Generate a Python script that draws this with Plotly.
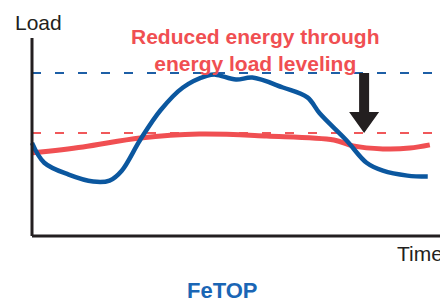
import plotly.graph_objects as go

# ---- data (arbitrary load units, time 0-100) ----
blue_time = [0, 3, 9, 15, 19, 22, 26.5, 31.5, 37, 43, 45, 50, 54, 61.5, 67.5, 70.5, 77, 82, 86, 92, 97]
blue_load = [47, 37, 31, 27.5, 28, 33, 48.5, 63.5, 75, 81, 81.5, 79, 80, 75, 70, 62, 48.5, 37, 33, 30.5, 30]

red_time = [0.2, 12.5, 26.5, 41, 57.5, 74, 78.7, 86, 92.6, 97.5]
red_load = [42, 45, 49.5, 51.5, 50.5, 48.5, 45.5, 44, 44.4, 46]

peak_level = 82.3
leveled_level = 52.0
arrow_time = 81.4

title_lines = ["Reduced energy through", "energy load leveling"]
y_label = "Load"
x_label = "Time"
caption = "FeTOP"

# ---- layout geometry ----
# the page body has an 8px margin, so the figure is drawn 8px in from the window corner
OFF = 8
WIN_W, WIN_H = 448, 303
W, H = WIN_W - OFF, WIN_H - OFF
X0_PX, XS = 32, 4.08      # window px of time 0, px per unit
Y0_PX, YS = 236, 1.98     # window px of load 0, px per unit
x_range = [(OFF - X0_PX) / XS, (WIN_W - X0_PX) / XS]
y_range = [(Y0_PX - WIN_H) / YS, (Y0_PX - OFF) / YS]


def px(xw):
    return (xw - OFF) / W


def py(yw):
    return 1 - (yw - OFF) / H


BLUE = "#0b579f"
RED = "#f04f52"
DARK = "#231f20"
FONT = "Liberation Sans, Arial, Helvetica, sans-serif"

fig = go.Figure()

# dashed reference levels
fig.add_trace(go.Scatter(x=[0, x_range[1]], y=[peak_level, peak_level], mode="lines",
                         line=dict(color="#1d5fa6", width=2, dash="9px,14px"), hoverinfo="skip"))
fig.add_trace(go.Scatter(x=[0, x_range[1]], y=[leveled_level, leveled_level], mode="lines",
                         line=dict(color="#f0585a", width=2, dash="9px,14px"), hoverinfo="skip"))

# curves
fig.add_trace(go.Scatter(x=red_time, y=red_load, mode="lines",
                         line=dict(color=RED, width=5, shape="spline", smoothing=1.0), hoverinfo="skip"))
fig.add_trace(go.Scatter(x=blue_time, y=blue_load, mode="lines",
                         line=dict(color=BLUE, width=4.5, shape="spline", smoothing=1.0), hoverinfo="skip"))

# axes lines
fig.add_shape(type="line", x0=0, x1=100, y0=0, y1=0, line=dict(color=DARK, width=3), layer="above")
fig.add_shape(type="line", x0=0, x1=0, y0=0, y1=100, line=dict(color=DARK, width=3), layer="above")

# arrow (shaft + head)
shaft_hw = 5 / XS
head_hw = 15 / XS
head_len = 21 / YS
head_base = leveled_level + head_len
path = (f"M {arrow_time - shaft_hw},{peak_level} L {arrow_time + shaft_hw},{peak_level} "
        f"L {arrow_time + shaft_hw},{head_base} L {arrow_time + head_hw},{head_base} "
        f"L {arrow_time},{leveled_level} L {arrow_time - head_hw},{head_base} "
        f"L {arrow_time - shaft_hw},{head_base} Z")
fig.add_shape(type="path", path=path, fillcolor=DARK, line=dict(width=0), layer="above")

# texts
fig.add_annotation(text=y_label, xref="paper", yref="paper", x=px(39), y=py(22),
                   showarrow=False, xanchor="center", yanchor="middle",
                   font=dict(family=FONT, size=21, color=DARK))
fig.add_annotation(text=x_label, xref="paper", yref="paper", x=px(420), y=py(253),
                   showarrow=False, xanchor="center", yanchor="middle",
                   font=dict(family=FONT, size=21, color=DARK))
fig.add_annotation(text="<b>" + "<br>".join(title_lines) + "</b>", xref="paper", yref="paper",
                   x=px(255), y=py(50), showarrow=False, xanchor="center", yanchor="middle",
                   align="center", font=dict(family=FONT, size=21, color=RED))
fig.add_annotation(text="<b>" + caption + "</b>", xref="paper", yref="paper",
                   x=px(222), y=py(290), showarrow=False, xanchor="center", yanchor="middle",
                   font=dict(family=FONT, size=22, color="#1a66b5"))

fig.update_xaxes(range=x_range, visible=False, fixedrange=True)
fig.update_yaxes(range=y_range, visible=False, fixedrange=True)
fig.update_layout(width=W, height=H, margin=dict(l=0, r=0, t=0, b=0),
                  paper_bgcolor="white", plot_bgcolor="white", showlegend=False)

fig.write_html("out.html")
